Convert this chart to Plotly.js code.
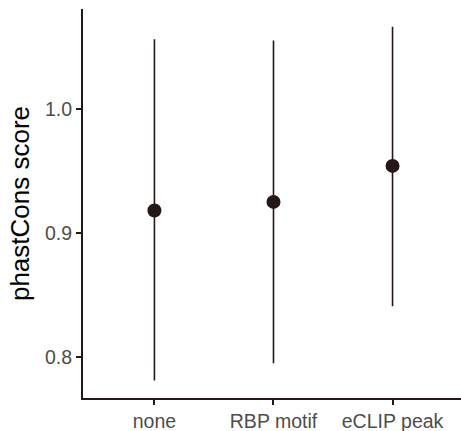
<!DOCTYPE html>
<html>
<head>
<meta charset="utf-8">
<script src="https://cdn.plot.ly/plotly-3.0.1.min.js"></script>
<style>html,body{margin:0;padding:0;background:#fff;overflow:hidden;}#chart{width:461px;height:431px;}</style>
</head>
<body>
<div id="chart"></div>
<script>
var categories = ["none", "RBP motif", "eCLIP peak"];
var meanScore = [0.918, 0.925, 0.954];
var lowerScore = [0.781, 0.795, 0.841];
var upperScore = [1.056, 1.055, 1.066];
var yTicks = [0.8, 0.9, 1.0];
var yTickLabels = ["0.8", "0.9", "1.0"];

var errPlus = upperScore.map(function(u, i){ return u - meanScore[i]; });
var errMinus = lowerScore.map(function(l, i){ return meanScore[i] - l; });

var ink = "#231815";
var trace = {
  type: "scatter",
  mode: "markers",
  x: categories,
  y: meanScore,
  marker: {color: ink, size: 14},
  error_y: {type: "data", symmetric: false, array: errPlus, arrayminus: errMinus,
            width: 0, thickness: 1.6, color: ink},
  hoverinfo: "none"
};

var layout = {
  width: 461, height: 431,
  margin: {l: 83, r: 0, t: 9, b: 33.3},
  paper_bgcolor: "#fff", plot_bgcolor: "#fff",
  showlegend: false,
  font: {family: "Liberation Sans, Arial, sans-serif"},
  xaxis: {
    type: "category", range: [-0.6, 2.575],
    showline: true, linecolor: ink, linewidth: 2,
    showgrid: false, zeroline: false,
    ticks: "outside", ticklen: 5, tickwidth: 2, tickcolor: ink,
    tickfont: {size: 19.5, color: "#4d4d4d"}
  },
  yaxis: {
    range: [0.767, 1.0804],
    tickvals: yTicks, ticktext: yTickLabels,
    showline: true, linecolor: ink, linewidth: 2,
    showgrid: false, zeroline: false,
    ticks: "outside", ticklen: 5, tickwidth: 2, tickcolor: ink,
    tickfont: {size: 19.5, color: "#4d4d4d"},
    title: {text: "phastCons score", font: {size: 26, color: "#000"}, standoff: 8}
  }
};

Plotly.newPlot("chart", [trace], layout, {staticPlot: true, displayModeBar: false});
</script>
</body>
</html>
